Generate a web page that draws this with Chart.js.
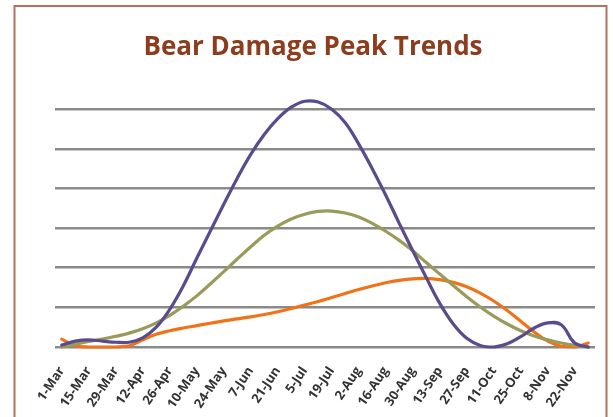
<!DOCTYPE html>
<html>
<head>
<meta charset="utf-8">
<title>Bear Damage Peak Trends</title>
<script src="https://cdn.jsdelivr.net/npm/chart.js@4"></script>
<style>
  html, body { margin: 0; padding: 0; background: #ffffff; }
  #wrap { width: 613px; height: 417px; position: relative; }
</style>
</head>
<body>
<div id="wrap"><canvas id="chart" width="613" height="417"></canvas></div>
<script>
// Weekly categories, 1 March through 29 November
const weeks = [
  '1-Mar', '8-Mar', '15-Mar', '22-Mar', '29-Mar', '5-Apr', '12-Apr', '19-Apr',
  '26-Apr', '3-May', '10-May', '17-May', '24-May', '31-May', '7-Jun', '14-Jun',
  '21-Jun', '28-Jun', '5-Jul', '12-Jul', '19-Jul', '26-Jul', '2-Aug', '9-Aug',
  '16-Aug', '23-Aug', '30-Aug', '6-Sep', '13-Sep', '20-Sep', '27-Sep', '4-Oct',
  '11-Oct', '18-Oct', '25-Oct', '1-Nov', '8-Nov', '15-Nov', '22-Nov', '29-Nov'
];

// Axis labels shown every second week
const tickLabels = [
  '1-Mar', '15-Mar', '29-Mar', '12-Apr', '26-Apr', '10-May', '24-May', '7-Jun',
  '21-Jun', '5-Jul', '19-Jul', '2-Aug', '16-Aug', '30-Aug', '13-Sep', '27-Sep',
  '11-Oct', '25-Oct', '8-Nov', '22-Nov'
];

// Damage trend series (relative intensity)
const purpleSeries = [
  0.5, 1.5, 1.8, 1.5, 1.2, 1.2, 2.3, 5.0, 9.5, 15.4,
  22.4, 29.2, 36.0, 42.6, 48.6, 53.6, 57.6, 60.5, 62.0, 61.8,
  60.0, 56.6, 51.2, 45.0, 38.3, 31.2, 24.3, 17.5, 11.0, 5.8,
  2.2, 0.4, 0.0, 0.8, 2.6, 4.8, 6.1, 5.6, 1.0, 0.0
];
const oliveSeries = [
  0.0, 0.7, 1.4, 2.0, 2.7, 3.5, 4.6, 6.1, 8.0, 10.3,
  12.9, 15.9, 19.0, 22.2, 25.3, 28.2, 30.5, 32.3, 33.5, 34.2,
  34.3, 33.8, 32.8, 31.2, 29.2, 26.9, 24.3, 21.3, 18.4, 15.5,
  12.7, 10.1, 7.8, 5.8, 4.1, 2.8, 1.8, 1.0, 0.4, 0.0
];
const orangeSeries = [
  2.0, 0.3, 0.0, 0.0, 0.0, 0.3, 1.8, 3.2, 4.1, 4.8,
  5.4, 6.0, 6.6, 7.1, 7.6, 8.2, 8.9, 9.7, 10.6, 11.5,
  12.5, 13.5, 14.5, 15.4, 16.2, 16.8, 17.2, 17.3, 17.0, 16.3,
  15.2, 13.6, 11.6, 9.2, 6.5, 3.8, 1.5, 0.2, 0.0, 1.0
];

const TITLE_COLOR = '#8b3d1d';
const FRAME_COLOR = '#b5745a';

// White page and brown frame behind the chart
const framePlugin = {
  id: 'frame',
  beforeDraw(chart) {
    const ctx = chart.ctx;
    ctx.save();
    ctx.fillStyle = '#ffffff';
    ctx.fillRect(0, 0, chart.width, chart.height);
    ctx.strokeStyle = FRAME_COLOR;
    ctx.lineWidth = 2;
    ctx.strokeRect(14.5, 6, 592, chart.height + 10);
    ctx.restore();
  }
};

const lineStyle = {
  borderWidth: 3.2,
  pointRadius: 0,
  pointHoverRadius: 0,
  tension: 0.4,
  fill: false,
  clip: false,
  borderCapStyle: 'round',
  borderJoinStyle: 'round'
};

new Chart(document.getElementById('chart'), {
  type: 'line',
  data: {
    labels: weeks,
    datasets: [
      Object.assign({ label: 'Purple', data: purpleSeries, borderColor: '#5a4b8c', order: 1 }, lineStyle),
      Object.assign({ label: 'Olive', data: oliveSeries, borderColor: '#9a9a5a', order: 2 }, lineStyle),
      Object.assign({ label: 'Orange', data: orangeSeries, borderColor: '#f0731a', order: 3 }, lineStyle)
    ]
  },
  options: {
    responsive: false,
    animation: false,
    events: [],
    layout: { padding: { left: 20, right: 7, top: 0, bottom: 0 } },
    plugins: {
      legend: { display: false },
      tooltip: { enabled: false },
      title: {
        display: true,
        text: 'Bear Damage Peak Trends',
        color: TITLE_COLOR,
        font: { family: 'Open Sans', size: 26, weight: 'bold' },
        padding: { top: 32, bottom: 46 }
      }
    },
    scales: {
      x: {
        offset: true,
        grid: { display: false },
        border: { display: false },
        ticks: {
          autoSkip: false,
          minRotation: 56,
          maxRotation: 56,
          padding: 9,
          color: '#333333',
          font: { family: 'Open Sans', size: 13, weight: 'bold' },
          callback(value, index) {
            return index % 2 === 0 ? tickLabels[index / 2] : '';
          }
        },
        afterFit(scale) { scale.height = 70; }
      },
      y: {
        min: 0,
        max: 60,
        ticks: { display: false, stepSize: 10 },
        border: { display: false },
        grid: { color: '#8a8a8a', lineWidth: 2.5, drawTicks: false },
        afterFit(scale) { scale.width = 35; }
      },
      yRight: {
        position: 'right',
        min: 0,
        max: 60,
        ticks: { display: false },
        border: { display: false },
        grid: { display: false },
        afterFit(scale) { scale.width = 11; }
      }
    }
  },
  plugins: [framePlugin]
});
</script>
</body>
</html>
